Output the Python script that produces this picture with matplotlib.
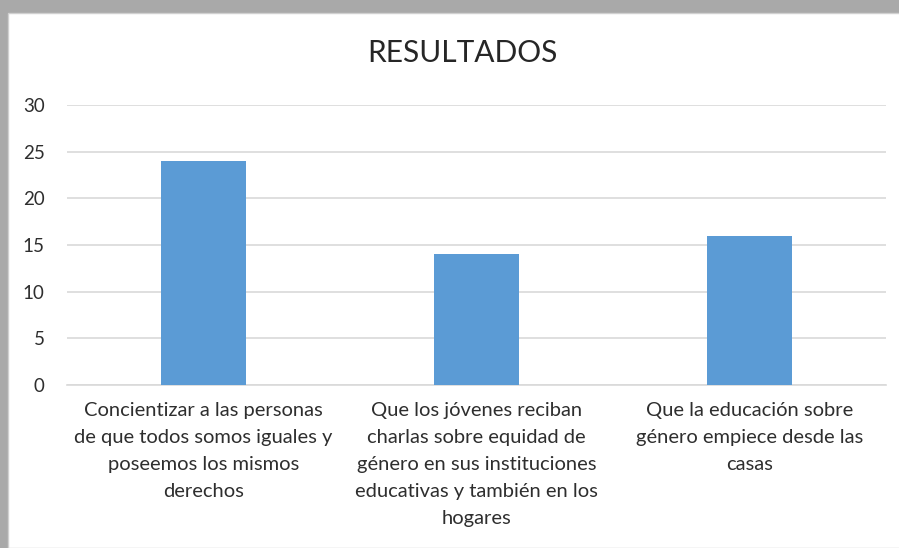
import matplotlib.pyplot as plt
from matplotlib.patches import Rectangle

# Chart data
categories = [
    "Concientizar a las personas\nde que todos somos iguales y\nposeemos los mismos\nderechos",
    "Que los jóvenes reciban\ncharlas sobre equidad de\ngénero en sus instituciones\neducativas y también en los\nhogares",
    "Que la educación sobre\ngénero empiece desde las\ncasas",
]
values = [24, 14, 16]
y_ticks = [0, 5, 10, 15, 20, 25, 30]

plt.rcParams['font.family'] = ['Lato', 'DejaVu Sans']

fig = plt.figure(figsize=(8.99, 5.48), dpi=100)
fig.patch.set_facecolor('#a9a9a9')

# white chart area sitting on the grey screenshot background
W, H = 899, 548
fig.patches.append(Rectangle((8 / W, 0), 1, 1 - 13 / H, transform=fig.transFigure,
                             facecolor='white', edgecolor='#d0d0d0', linewidth=1, zorder=-5))

ax = fig.add_axes([67 / W, 1 - 385 / H, (886 - 67) / W, (385 - 105) / H])
ax.set_zorder(2)
ax.set_facecolor('white')

x = range(len(values))
ax.bar(x, values, width=0.31, color='#5b9bd5', zorder=3)

ax.set_xlim(-0.5, 2.5)
ax.set_ylim(0, 30)
ax.set_yticks(y_ticks)
ax.set_xticks(list(x))
ax.set_xticklabels(categories, fontsize=14.5, color='#2e2e2e', linespacing=1.72)
ax.tick_params(axis='y', labelsize=13.5, labelcolor='#2e2e2e', length=0, pad=16)
ax.tick_params(axis='x', length=0, pad=12)

ax.grid(axis='y', color='#d9d9d9', linewidth=1.2, zorder=0)
for side in ['top', 'right', 'left']:
    ax.spines[side].set_visible(False)
ax.spines['bottom'].set_color('#d9d9d9')
ax.spines['bottom'].set_linewidth(1.2)

fig.text(462 / W, 1 - 53 / H, "RESULTADOS", ha='center', va='center',
         fontsize=21.5, color='#262626', zorder=3)

fig.savefig('out.png', dpi=100, facecolor=fig.get_facecolor())
